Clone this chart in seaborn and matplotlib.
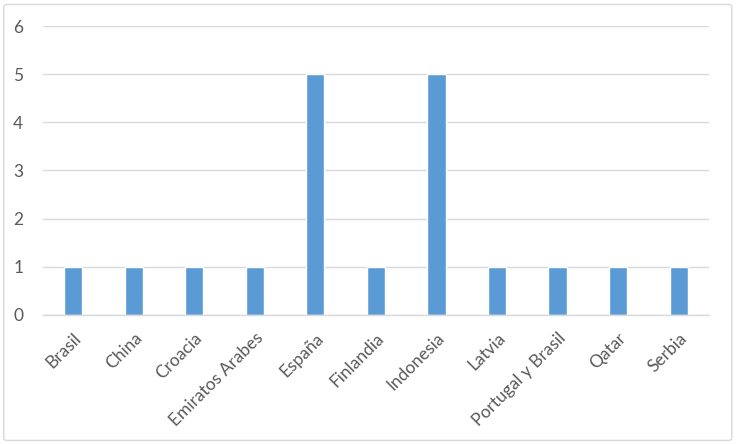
import matplotlib
matplotlib.use("Agg")
import matplotlib.pyplot as plt
import seaborn as sns
import pandas as pd
from matplotlib.patches import FancyBboxPatch

categories = ["Brasil", "China", "Croacia", "Emiratos Arabes", "España", "Finlandia",
              "Indonesia", "Latvia", "Portugal y Brasil", "Qatar", "Serbia"]
values = [1, 1, 1, 1, 5, 1, 5, 1, 1, 1, 1]
yticks = [0, 1, 2, 3, 4, 5, 6]

sns.set_theme(style="white")
plt.rcParams['font.family'] = ['Lato', 'DejaVu Sans']

df = pd.DataFrame({"cat": categories, "val": values})

fig = plt.figure(figsize=(7.37, 4.44), dpi=100)
ax = fig.add_axes([0.058, 0.291, 0.904, 0.65])
sns.barplot(data=df, x="cat", y="val", color="#5B9BD5", width=0.3, saturation=1, ax=ax)

ax.set_ylim(0, 6)
ax.set_xlim(-0.5, len(categories) - 0.5)
ax.set_yticks(yticks)
ax.set_yticklabels([str(t) for t in yticks])
ax.yaxis.grid(True, color="#D9D9D9", linewidth=1)
ax.set_axisbelow(True)
for s in ["top", "right", "left"]:
    ax.spines[s].set_visible(False)
ax.spines["bottom"].set_color("#D9D9D9")
ax.spines["bottom"].set_linewidth(1)
ax.set_xlabel("")
ax.set_ylabel("")
ax.tick_params(axis="both", length=0, labelsize=12.5, labelcolor="#595959")
ax.tick_params(axis="y", pad=14)
ax.tick_params(axis="x", pad=11)
plt.setp(ax.get_xticklabels(), rotation=45, ha="right", rotation_mode="anchor")

border = FancyBboxPatch((0.005, 0.008), 0.988, 0.982, boxstyle="round,pad=0,rounding_size=0.005",
                        transform=fig.transFigure, fill=False, edgecolor="#D9D9D9", linewidth=1)
fig.patches.append(border)

fig.savefig("out.png", dpi=100)
